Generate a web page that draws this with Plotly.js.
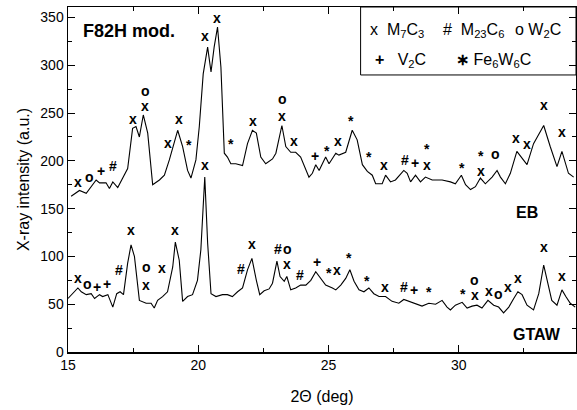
<!DOCTYPE html>
<html><head><meta charset="utf-8">
<script src="https://cdn.plot.ly/plotly-3.0.1.min.js"></script>
<style>html,body{margin:0;padding:0;background:#fff}#chart{width:577px;height:410px}</style>
</head><body><div id="chart"></div>
<script>
// EB pattern
const ebX = [15.12,15.44,15.70,16.08,16.21,16.46,16.59,16.72,16.91,17.13,17.29,17.48,17.61,17.74,17.89,18.06,18.25,18.51,18.70,18.89,19.21,19.40,19.59,19.72,19.91,20.04,20.19,20.36,20.49,20.61,20.74,20.87,21.00,21.12,21.25,21.44,21.70,21.89,22.08,22.23,22.40,22.59,22.85,22.98,23.21,23.36,23.55,23.74,23.93,24.25,24.38,24.51,24.64,24.89,25.02,25.28,25.40,25.66,25.91,26.10,26.30,26.49,26.68,26.81,27.06,27.19,27.38,27.57,27.89,28.02,28.15,28.34,28.53,28.72,28.98,29.36,29.68,29.87,30.10,30.26,30.45,30.64,30.83,31.02,31.28,31.47,31.60,31.79,31.98,32.23,32.43,32.62,32.87,33.07,33.26,33.51,33.77,33.96,34.21,34.41];
const ebY = [163,169,166,180,177,177,171,178,172,184,192,234,236,225,248,229,175,180,185,201,232,215,190,182,201,236,291,319,293,319,340,298,208,204,197,197,195,218,232,229,204,197,202,208,237,215,209,209,204,183,187,196,190,204,197,208,206,209,232,222,196,189,185,176,176,185,178,180,190,187,178,185,178,183,180,180,178,176,185,175,170,173,182,176,183,190,183,176,187,210,203,196,218,227,237,215,194,210,187,183];
// GTAW pattern
const gtX = [15.00,15.18,15.38,15.51,15.70,15.89,16.02,16.21,16.33,16.53,16.72,16.87,17.00,17.13,17.29,17.42,17.55,17.74,18.00,18.19,18.31,18.44,18.63,18.82,19.02,19.12,19.27,19.40,19.59,19.78,19.97,20.10,20.19,20.25,20.36,20.49,20.68,20.93,21.12,21.31,21.51,21.70,21.89,22.06,22.23,22.36,22.53,22.72,22.85,23.02,23.14,23.30,23.40,23.55,23.74,23.93,24.13,24.32,24.51,24.70,24.89,25.15,25.28,25.47,25.66,25.82,25.98,26.17,26.36,26.55,26.74,26.94,27.19,27.44,27.70,27.89,28.08,28.34,28.59,28.85,29.11,29.36,29.55,29.68,29.87,30.13,30.32,30.51,30.70,30.89,31.12,31.34,31.53,31.72,31.92,32.11,32.27,32.43,32.62,32.87,33.07,33.26,33.42,33.57,33.77,33.96,34.11,34.28,34.47];
const gtY = [56,61,67,63,60,61,56,60,58,60,47,61,63,60,93,112,100,54,51,51,46,54,58,63,89,115,96,53,58,60,75,107,159,183,114,61,58,60,60,58,63,67,86,98,75,60,64,66,72,95,79,74,79,65,67,70,70,75,84,77,70,67,65,70,77,86,74,65,63,67,61,58,58,53,51,55,53,51,48,51,50,54,47,44,49,52,46,48,49,46,54,49,47,41,47,56,63,60,49,44,61,91,72,54,49,65,58,51,47];
// phase marker labels (EB)
const ebLabT = ["x","o","+","#","x","o","x","x","x","*","x","x","*","x","o","x","x","+","*","x","*","*","x","#","+","*","x","*","*","x","o","x","x","x","x"];
const ebLabX = [15.40,15.82,16.28,16.74,17.51,17.97,17.97,18.85,19.27,19.66,20.27,20.73,21.26,22.10,23.22,23.22,23.68,24.49,24.95,25.37,25.87,26.56,27.13,27.93,28.31,28.77,28.77,30.11,30.84,30.84,31.42,32.18,32.60,33.26,33.95];
const ebLabY = [178,183,189,195,244,273,257,219,244,219,331,349,220,242,265,247,221,205,212,221,244,206,196,201,198,215,196,195,207,189,207,224,218,258,230];
// phase marker labels (GTAW)
const gtLabT = ["x","o","+","+","#","x","o","x","x","x","x","#","x","#","o","x","#","+","*","x","*","*","x","#","+","*","*","o","x","x","o","x","x","x","x"];
const gtLabX = [15.40,15.75,16.13,16.51,16.97,17.43,18.01,18.01,18.62,19.12,20.27,21.65,22.07,23.07,23.41,23.41,23.90,24.56,25.00,25.32,25.78,26.47,27.16,27.89,28.27,28.85,30.15,30.61,30.61,31.15,31.53,31.88,32.26,33.26,33.95];
const gtLabY = [77,71,68,71,86,128,89,70,88,128,196,87,113,108,108,92,81,94,85,86,100,76,68,68,65,65,63,75,60,64,61,68,77,110,80];

const F = "Liberation Sans, Arial, sans-serif";
const traces = [
  {x: ebX, y: ebY, mode: "lines", line: {color: "#000", width: 1.1}, hoverinfo: "skip"},
  {x: gtX, y: gtY, mode: "lines", line: {color: "#000", width: 1.1}, hoverinfo: "skip"}
];
const ann = [];
function addLabs(t, xs, ys) {
  for (let i = 0; i < t.length; i++) {
    const star = t[i] === "*";
    ann.push({x: xs[i], y: ys[i], xref: "x", yref: "y", text: "<b>" + t[i] + "</b>", showarrow: false,
      font: {family: F, size: 14, color: "#000"}, yshift: star ? -2 : 0});
  }
}
addLabs(ebLabT, ebLabX, ebLabY);
addLabs(gtLabT, gtLabX, gtLabY);
const lf = {family: F, size: 16, color: "#000"};
ann.push(
  {xref: "paper", yref: "paper", x: 0.026, y: 0.93, xanchor: "left", yanchor: "middle", text: "<b>F82H mod.</b>", showarrow: false, font: {family: F, size: 18, color: "#000"}},
  {xref: "paper", yref: "paper", x: 0.903, y: 0.405, xanchor: "center", yanchor: "middle", text: "<b>EB</b>", showarrow: false, font: {family: F, size: 16, color: "#000"}},
  {xref: "paper", yref: "paper", x: 0.923, y: 0.05, xanchor: "center", yanchor: "middle", text: "<b>GTAW</b>", showarrow: false, font: {family: F, size: 16, color: "#000"}},
  {xref: "paper", yref: "paper", x: 0.59, y: 0.933, xanchor: "left", yanchor: "middle", text: "x  M<sub>7</sub>C<sub>3</sub>", showarrow: false, font: lf},
  {xref: "paper", yref: "paper", x: 0.735, y: 0.933, xanchor: "left", yanchor: "middle", text: "#  M<sub>23</sub>C<sub>6</sub>", showarrow: false, font: lf},
  {xref: "paper", yref: "paper", x: 0.875, y: 0.933, xanchor: "left", yanchor: "middle", text: "o W<sub>2</sub>C", showarrow: false, font: lf},
  {xref: "paper", yref: "paper", x: 0.6, y: 0.846, xanchor: "left", yanchor: "middle", text: "<b>+</b>   V<sub>2</sub>C", showarrow: false, font: lf},
  {xref: "paper", yref: "paper", x: 0.76, y: 0.846, xanchor: "left", yanchor: "middle", text: "<b>∗</b> Fe<sub>6</sub>W<sub>6</sub>C", showarrow: false, font: lf}
);
const layout = {
  width: 577, height: 410,
  margin: {l: 68, r: 1, t: 7, b: 58},
  paper_bgcolor: "#fff", plot_bgcolor: "#fff",
  showlegend: false,
  font: {family: F, size: 14, color: "#000"},
  xaxis: {range: [15, 34.5], dtick: 5, tick0: 15, ticks: "inside", ticklen: 7, tickwidth: 1, tickcolor: "#000",
    minor: {dtick: 2.5, ticks: "inside", ticklen: 4, tickcolor: "#000"},
    showline: true, linecolor: "#000", linewidth: 1.5, mirror: "ticks", showgrid: false, zeroline: false,
    tickfont: {family: F, size: 14}, title: {text: "2Θ (deg)", font: {family: F, size: 16}, standoff: 18}},
  yaxis: {range: [0, 361], dtick: 50, tick0: 0, ticks: "inside", ticklen: 7, tickwidth: 1, tickcolor: "#000",
    minor: {dtick: 25, ticks: "inside", ticklen: 4, tickcolor: "#000"},
    showline: true, linecolor: "#000", linewidth: 1.5, mirror: "ticks", showgrid: false, zeroline: false,
    tickfont: {family: F, size: 14}, title: {text: "X-ray intensity (a.u.)", font: {family: F, size: 16}, standoff: 6}},
  shapes: [{type: "rect", xref: "paper", yref: "paper", x0: 0.576, x1: 1, y0: 0.803, y1: 1, line: {color: "#000", width: 1}, fillcolor: "#fff", layer: "below"}],
  annotations: ann
};
Plotly.newPlot("chart", traces, layout, {staticPlot: true, displayModeBar: false});
</script></body></html>
